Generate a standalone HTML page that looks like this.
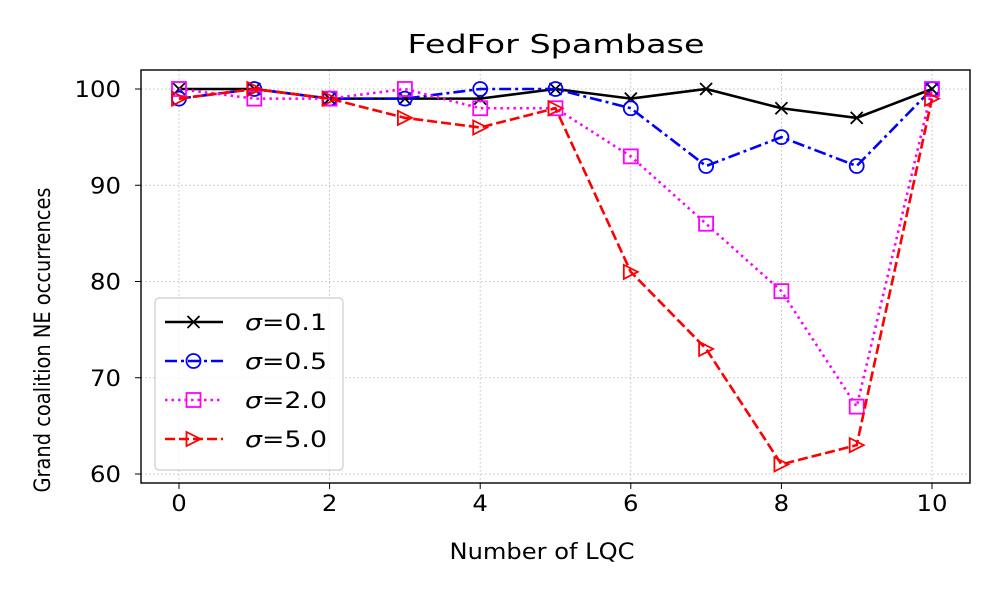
<!DOCTYPE html>
<html><head><meta charset="utf-8"><style>
body{margin:0;background:#fff;font-family:"Liberation Sans","DejaVu Sans",sans-serif}
</style></head><body>
<svg id="chart" width="1000" height="600" xmlns="http://www.w3.org/2000/svg" font-family="DejaVu Sans, Liberation Sans, sans-serif"></svg>
<script>
const xValues=[0,1,2,3,4,5,6,7,8,9,10];
const s01=[100,100,99,99,99,100,99,100,98,97,100];
const s05=[99,100,99,99,100,100,98,92,95,92,100];
const s20=[100,99,99,100,98,98,93,86,79,67,100];
const s50=[99,100,99,97,96,98,81,73,61,63,99];
const xTicks=[0,2,4,6,8,10];
const yTicks=[60,70,80,90,100];
const NS="http://www.w3.org/2000/svg";
const svg=document.getElementById('chart');
const L=141,R=970,T=70,B=483;
const X=v=>179+(v-0)*(932-179)/10;
const Y=v=>89+(100-v)*(474-89)/40;
function mk(tag,attrs,parent){const e=document.createElementNS(NS,tag);for(const k in attrs)e.setAttribute(k,attrs[k]);(parent||svg).appendChild(e);return e;}
xTicks.forEach(t=>{const g=mk('line',{x1:X(t),x2:X(t),y1:T,y2:B,stroke:'#b0b0b0','stroke-width':0.8,'stroke-dasharray':'1.5,2.5'});


const tk=mk('line',{x1:X(t),x2:X(t),y1:B,y2:B+6,stroke:'#000','stroke-width':1});


const s=String(t);
const tl=mk('text',{x:X(t),y:B+28,'text-anchor':'middle','font-size':22,textLength:s.length*15.5,lengthAdjust:'spacingAndGlyphs'});tl.textContent=s;

});
yTicks.forEach(t=>{const g=mk('line',{x1:L,x2:R,y1:Y(t),y2:Y(t),stroke:'#b0b0b0','stroke-width':0.8,'stroke-dasharray':'1.5,2.5'});


const tk=mk('line',{x1:L-6,x2:L,y1:Y(t),y2:Y(t),stroke:'#000','stroke-width':1});


const s=String(t);
const tl=mk('text',{x:L-20,y:Y(t)+8,'text-anchor':'end','font-size':22,textLength:s.length*15.5,lengthAdjust:'spacingAndGlyphs'});tl.textContent=s;

});
function marker(type,x,y,color,parent){
 if(type==='x')return mk('path',{d:`M${x-6},${y-6}L${x+6},${y+6}M${x-6},${y+6}L${x+6},${y-6}`,stroke:color,'stroke-width':1.8,fill:'none'},parent);
 if(type==='o')return mk('circle',{cx:x,cy:y,r:7,stroke:color,'stroke-width':1.8,fill:'none'},parent);
 if(type==='s')return mk('rect',{x:x-7,y:y-7,width:14,height:14,stroke:color,'stroke-width':1.8,fill:'none'},parent);
 return mk('path',{d:`M${x-7},${y-7}L${x+7},${y}L${x-7},${y+7}Z`,stroke:color,'stroke-width':1.8,fill:'none'},parent);
}
const series=[
 {name:'sigma-0.1',data:s01,color:'#000',dash:'',m:'x',label:'0.1'},
 {name:'sigma-0.5',data:s05,color:'#0000ff',dash:'12,4,3,4',m:'o',label:'0.5'},
 {name:'sigma-2.0',data:s20,color:'#ff00ff',dash:'2.5,4',m:'s',label:'2.0'},
 {name:'sigma-5.0',data:s50,color:'#ff0000',dash:'10,4',m:'t',label:'5.0'}];
series.forEach(s=>{
 const g=mk('g',{});
 
 
 const p=mk('polyline',{points:s.data.map((v,i)=>X(xValues[i])+','+Y(v)).join(' '),fill:'none',stroke:s.color,'stroke-width':2.6,'stroke-dasharray':s.dash},g);
 
 
 s.data.forEach((v,i)=>{const m=marker(s.m,X(xValues[i]),Y(v),s.color,g);
 
 });
});
const fr=mk('rect',{x:L,y:T,width:R-L,height:B-T,fill:'none',stroke:'#000','stroke-width':1.4});


const lg=mk('g',{});


const lb=mk('rect',{x:155,y:298,width:188,height:172,rx:4,fill:'#fff','fill-opacity':0.8,stroke:'#ccc','stroke-width':1.2},lg);


series.forEach((s,i)=>{const y=322+i*39;
 const e=mk('g',{},lg);
 
 
 mk('line',{x1:165,x2:223,y1:y,y2:y,stroke:s.color,'stroke-width':2.6,'stroke-dasharray':s.dash},e);
 marker(s.m,193.5,y,s.color,e);
 const t=mk('text',{x:245,y:y+8,'font-size':22,textLength:82,lengthAdjust:'spacingAndGlyphs'},e);
 t.innerHTML='<tspan font-style="italic">σ</tspan>='+s.label;
});
const ti=mk('text',{x:556,y:53,'text-anchor':'middle','font-size':26,textLength:297,lengthAdjust:'spacingAndGlyphs'});ti.textContent='FedFor Spambase';


const xt=mk('text',{x:542,y:559,'text-anchor':'middle','font-size':22,textLength:185,lengthAdjust:'spacingAndGlyphs'});xt.textContent='Number of LQC';


const yt=mk('text',{x:0,y:0,'text-anchor':'middle','font-size':22,textLength:305,lengthAdjust:'spacingAndGlyphs',transform:'translate(50,340) rotate(-90)'});yt.textContent='Grand coalition NE occurrences';


</script>
</body></html>
